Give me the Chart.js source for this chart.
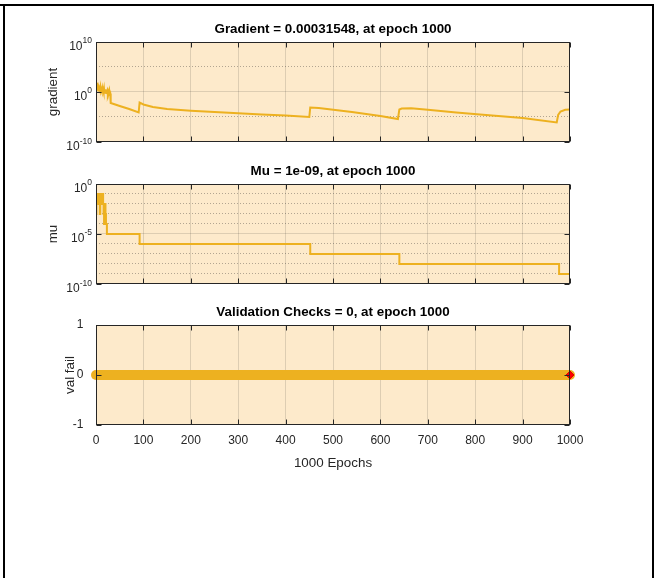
<!DOCTYPE html>
<html>
<head>
<meta charset="utf-8">
<title>Training state</title>
<script src="https://cdn.jsdelivr.net/npm/chart.js@4/dist/chart.umd.min.js"></script>
<style>
  html, body { margin: 0; padding: 0; background: #fff; }
  body { width: 654px; height: 578px; position: relative; overflow: hidden; }
  .edge { position: absolute; background: #000; }
  canvas { position: absolute; left: 0; }
</style>
</head>
<body>
<div class="edge" style="left:0; top:4px; width:654px; height:2px;"></div>
<div class="edge" style="left:3px; top:4px; width:2px; height:574px;"></div>
<div class="edge" style="left:652px; top:4px; width:2px; height:574px;"></div>

<canvas id="gradChart" width="654" height="150" style="top:0px"></canvas>
<canvas id="muChart" width="654" height="150" style="top:142px"></canvas>
<canvas id="valChart" width="654" height="200" style="top:283px"></canvas>

<script>
// x axis
const epochTicks = [0, 100, 200, 300, 400, 500, 600, 700, 800, 900, 1000];

// gradient per epoch
const gradEpochs = [0, 1, 2, 3, 4, 5, 6, 7, 8, 9, 10, 11, 12, 13, 14, 15, 16, 17, 18, 19,
    20, 21, 22, 23, 24, 25, 26, 27, 28, 29, 30, 31, 50, 70, 90, 92, 100, 120, 150, 200,
    250, 300, 350, 400, 450, 452, 470, 540, 600, 637, 640, 645, 665, 700, 760, 810, 900,
    972, 975, 980, 990, 1000];
const gradValues = [80, 16, 4, 10, 2, 6.3, 1.3, 5, 2.5, 8, 0.6, 3.2, 1.6, 5, 0.8, 2.5, 1, 4, 0.5, 2,
    1.3, 3.2, 0.6, 1.6, 2.5, 0.5, 1.3, 0.8, 2, 0.4, 0.5, 6.3e-3, 1.6e-3, 4e-4, 8e-5, 8e-3, 3.2e-3, 1e-3, 4e-4, 1.8e-4,
    1e-4, 5.6e-5, 3.2e-5, 2e-5, 1e-5, 8e-4, 6.3e-4, 1e-4, 1.6e-5, 4e-6, 3.2e-4, 5e-4, 5.6e-4, 2.8e-4, 8e-5, 3.2e-5, 6.3e-6,
    8e-7, 2.5e-5, 1.26e-4, 2.8e-4, 3.1548e-4];
const gradTicks = [1e-10, 1e-5, 1, 1e5, 1e10];
const gradLabelExps = [-10, 0, 10];
const gradSolid = [1];

// mu (each point: epoch where mu changes to that value)
const muEpochs = [0, 1, 2, 4, 5, 7, 8, 9, 10, 12, 13, 15, 16, 17, 18, 19, 20, 21, 23, 92, 452, 640, 977, 1000];
const muValues = [1e-3, 1e-2, 1e-1, 1e-2, 1e-1, 1e-2, 1e-3, 1e-2, 1e-1, 1e-2, 1e-1, 1e-2, 1e-3, 1e-4,
    1e-3, 1e-2, 1e-3, 1e-4, 1e-5, 1e-6, 1e-7, 1e-8, 1e-9, 1e-9];
const muTicks = [1e-10, 1e-9, 1e-8, 1e-7, 1e-6, 1e-5, 1e-4, 1e-3, 1e-2, 1e-1, 1];
const muLabelExps = [-10, -5, 0];
const muSolid = [1e-5];

// validation checks
const valEpochs = [0, 1000];
const valFails = [0, 0];
const valTicks = [-1, 0, 1];
const bestEpoch = [1000];
const bestValFail = [0];

const LINE = '#edb120';
const PLOT_BG = '#fdeacb';
const AXIS = '#262626';
const GRID = 'rgba(38, 38, 38, 0.15)';
const MINOR = 'rgba(38, 38, 38, 0.35)';
const NONE = 'rgba(0, 0, 0, 0)';
const FONT = '"Liberation Sans", Arial, Helvetica, sans-serif';

function toPoints(xs, ys) {
    return xs.map((x, i) => ({ x: x, y: ys[i] }));
}

/**
 * MATLAB-like axes: shaded plot area, box, inward ticks, 10^n labels
 */
const axesPlugin = {
    id: 'matlabAxes',
    beforeDraw(chart) {
        const a = chart.chartArea;
        const ctx = chart.ctx;
        ctx.save();
        ctx.fillStyle = PLOT_BG;
        ctx.fillRect(a.left, a.top, a.right - a.left, a.bottom - a.top);
        ctx.restore();
    },
    afterDraw(chart, args, opts) {
        const a = chart.chartArea;
        const ctx = chart.ctx;
        const xs = chart.scales.x;
        const ys = chart.scales.y;
        const L = Math.round(a.left) + 0.5, R = Math.round(a.right) - 0.5;
        const T = Math.round(a.top) + 0.5, B = Math.round(a.bottom) - 0.5;
        ctx.save();
        ctx.setLineDash([]);
        ctx.strokeStyle = AXIS;
        ctx.lineWidth = 1;
        ctx.strokeRect(L, T, R - L, B - T);

        // inward tick marks
        ctx.beginPath();
        xs.ticks.forEach(t => {
            const px = Math.round(xs.getPixelForValue(t.value)) + 0.5;
            ctx.moveTo(px, B); ctx.lineTo(px, B - 5);
            ctx.moveTo(px, T); ctx.lineTo(px, T + 5);
        });
        const majors = opts.majors || ys.ticks.map(t => t.value);
        majors.forEach(v => {
            const py = Math.round(ys.getPixelForValue(v)) + 0.5;
            ctx.moveTo(L, py); ctx.lineTo(L + 5, py);
            ctx.moveTo(R, py); ctx.lineTo(R - 5, py);
        });
        ctx.stroke();

        // power-of-ten labels
        if (opts.exps) {
            ctx.fillStyle = AXIS;
            ctx.textAlign = 'left';
            ctx.textBaseline = 'alphabetic';
            opts.exps.forEach(e => {
                const py = ys.getPixelForValue(Math.pow(10, e));
                const sup = String(e);
                ctx.font = '12px ' + FONT;
                const wb = ctx.measureText('10').width;
                ctx.font = '8.5px ' + FONT;
                const ws = ctx.measureText(sup).width;
                const x0 = a.left - 4 - wb - ws;
                ctx.font = '12px ' + FONT;
                ctx.fillText('10', x0, py + 8.3);
                ctx.font = '8.5px ' + FONT;
                ctx.fillText(sup, x0 + wb, py + 1.5);
            });
        }
        ctx.restore();
    }
};

function xScale(showLabels, height) {
    return {
        type: 'linear',
        min: 0,
        max: 1000,
        afterBuildTicks: scale => { scale.ticks = epochTicks.map(v => ({ value: v })); },
        afterFit: scale => { scale.height = height; },
        grid: {
            lineWidth: 1,
            drawTicks: false,
            color: c => (c.tick && (c.tick.value === 0 || c.tick.value === 1000)) ? NONE : GRID
        },
        border: { display: false },
        ticks: {
            display: showLabels,
            maxRotation: 0,
            autoSkip: false,
            padding: 8,
            color: AXIS,
            font: { family: FONT, size: 12 },
            callback: v => String(v)
        },
        title: {
            display: showLabels,
            text: '1000 Epochs',
            color: AXIS,
            font: { family: FONT, size: 13.4 },
            padding: { top: 0, bottom: 11.5 }
        }
    };
}

function logYScale(label, ticks, solid) {
    const lo = ticks[0], hi = ticks[ticks.length - 1];
    return {
        type: 'logarithmic',
        min: lo,
        max: hi,
        afterBuildTicks: scale => { scale.ticks = ticks.map(v => ({ value: v })); },
        afterFit: scale => { scale.width = 96; },
        grid: {
            drawTicks: false,
            lineWidth: 1,
            color: c => {
                if (!c.tick || c.tick.value === lo || c.tick.value === hi) return NONE;
                return solid.includes(c.tick.value) ? GRID : MINOR;
            }
        },
        border: {
            display: false,
            dash: c => (c.tick && solid.includes(c.tick.value)) ? [] : [1, 2]
        },
        ticks: { display: false },
        title: {
            display: true,
            text: label,
            color: AXIS,
            font: { family: FONT, size: 13.4 },
            padding: { top: 44.8, bottom: 0 }
        }
    };
}

function panelTitle(text) {
    return {
        display: true,
        text: text,
        color: '#000',
        fullSize: false,
        font: { family: FONT, size: 13.4, weight: 'bold' },
        padding: { top: 21.3, bottom: 4.6 }
    };
}

function baseOptions(title, scales, axesOpts) {
    return {
        responsive: false,
        animation: false,
        layout: { padding: { left: 0, right: 84, top: 0, bottom: 0 } },
        plugins: {
            legend: { display: false },
            tooltip: { enabled: false },
            title: panelTitle(title),
            matlabAxes: axesOpts
        },
        scales: scales
    };
}

new Chart(document.getElementById('gradChart'), {
    type: 'line',
    data: {
        datasets: [{
            data: toPoints(gradEpochs, gradValues),
            borderColor: LINE,
            borderWidth: 2,
            pointRadius: 0,
            tension: 0
        }]
    },
    options: baseOptions('Gradient = 0.00031548, at epoch 1000', {
        x: xScale(false, 8),
        y: logYScale('gradient', gradTicks, gradSolid)
    }, { exps: gradLabelExps, majors: [1e-10, 1, 1e10] }),
    plugins: [axesPlugin]
});

new Chart(document.getElementById('muChart'), {
    type: 'line',
    data: {
        datasets: [{
            data: toPoints(muEpochs, muValues),
            borderColor: LINE,
            borderWidth: 2,
            pointRadius: 0,
            stepped: 'before'
        }]
    },
    options: baseOptions('Mu = 1e-09, at epoch 1000', {
        x: xScale(false, 8),
        y: logYScale('mu', muTicks, muSolid)
    }, { exps: muLabelExps, majors: [1e-10, 1e-5, 1] }),
    plugins: [axesPlugin]
});

new Chart(document.getElementById('valChart'), {
    type: 'line',
    data: {
        datasets: [
            {
                data: toPoints(bestEpoch, bestValFail),
                showLine: false,
                clip: false,
                pointStyle: 'rectRot',
                pointRadius: 4,
                pointBackgroundColor: '#ff0000',
                pointBorderColor: '#e00000',
                pointBorderWidth: 1,
                order: 0
            },
            {
                data: toPoints(valEpochs, valFails),
                clip: false,
                borderColor: LINE,
                borderWidth: 10,
                borderCapStyle: 'round',
                pointRadius: 0,
                order: 1
            }
        ]
    },
    options: baseOptions('Validation Checks = 0, at epoch 1000', {
        x: xScale(true, 58),
        y: {
            type: 'linear',
            min: -1,
            max: 1,
            afterBuildTicks: scale => { scale.ticks = valTicks.map(v => ({ value: v })); },
            afterFit: scale => { scale.width = 96; },
            grid: { display: false },
            border: { display: false },
            ticks: {
                padding: 4.5,
                color: AXIS,
                font: { family: FONT, size: 12 }
            },
            title: {
                display: true,
                text: 'val fail',
                color: AXIS,
                font: { family: FONT, size: 13.4 },
                padding: { top: 61.8, bottom: 0 }
            }
        }
    }, {}),
    plugins: [axesPlugin]
});
</script>
</body>
</html>
